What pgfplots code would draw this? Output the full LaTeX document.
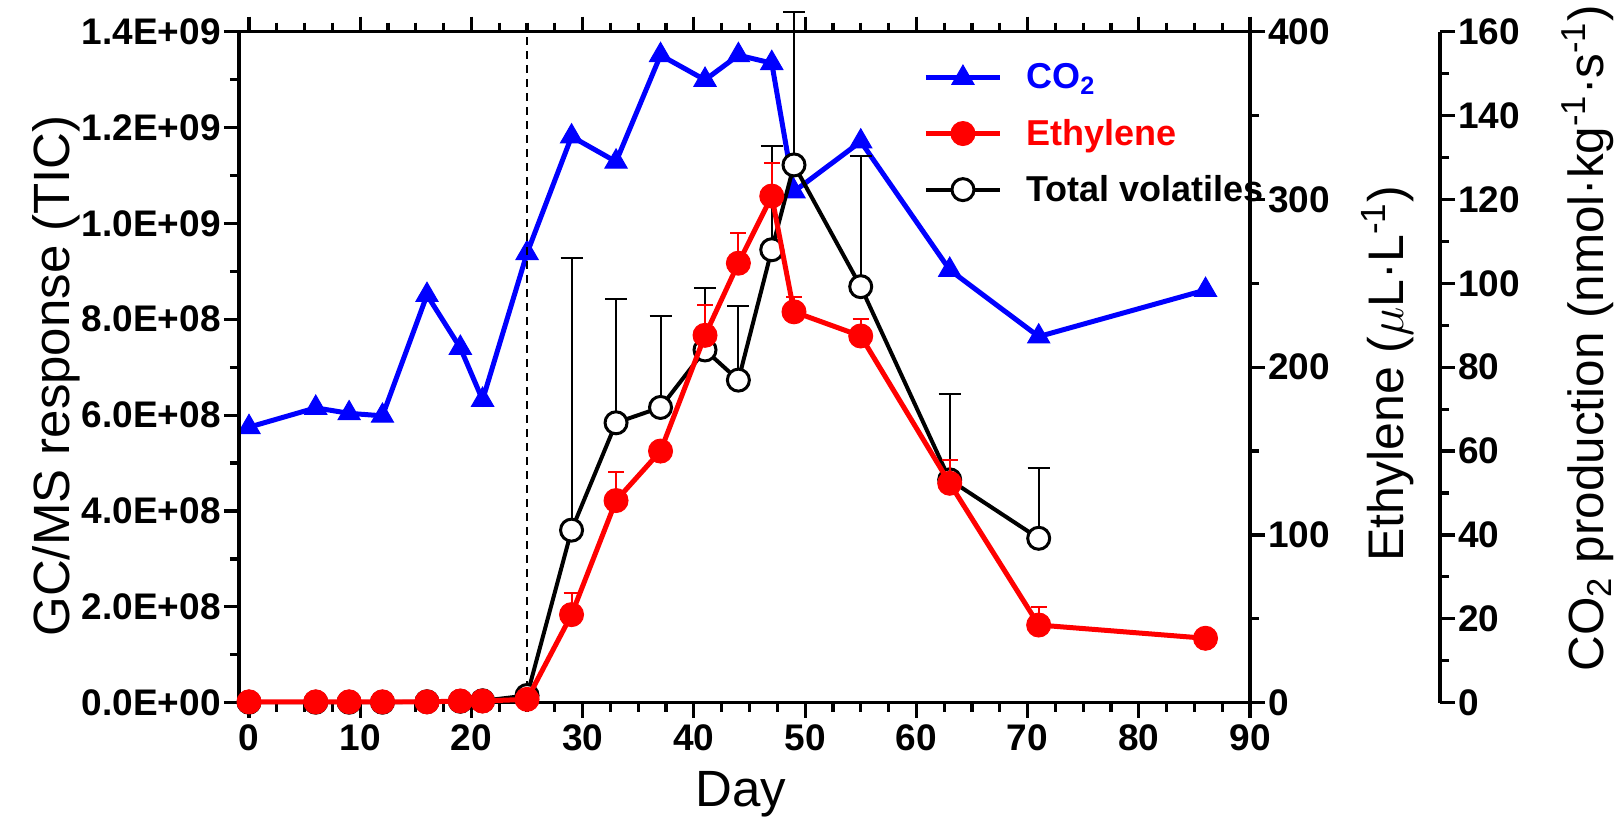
\documentclass[border=0pt]{standalone}
\usepackage{pgfplots}
\pgfplotsset{compat=1.18}
\usepackage{fontspec}
\setmainfont{Liberation Sans}

\pgfplotstableread{
day co2
0 65.7
6 70.3
9 69.0
12 68.4
16 97.2
19 84.6
21 72.2
25 107.2
29 135.0
33 129.0
37 154.4
41 148.5
44 154.4
47 152.5
49 121.9
55 133.8
63 103.2
71 87.3
86 98.4
}\cotwo

\pgfplotstableread{
day eth err
0 0.5 0
6 0.5 0
9 0.5 0
12 0.5 0
16 0.5 0
19 1 0
21 1 0
25 2 0
29 52.5 13
33 120.5 17
37 150 3
41 219 18
44 262 18
47 302 20
49 233 9
55 218.6 10
63 130.8 14
71 46.3 11
86 38.4 0
}\ethylene

\pgfplotstableread{
day tv err
0 1e6 0
6 1e6 0
9 1e6 0
12 1e6 0
16 2e6 0
19 3e6 0
21 4e6 0
25 1.5e7 0
29 3.60e8 5.67e8
33 5.84e8 2.58e8
37 6.16e8 1.91e8
41 7.36e8 1.29e8
44 6.73e8 1.55e8
47 9.45e8 2.17e8
49 1.122e9 3.20e8
55 8.68e8 2.73e8
63 4.65e8 1.79e8
71 3.43e8 1.46e8
}\volatiles

\begin{document}
\begin{tikzpicture}
\pgfplotsset{
  every axis/.append style={
    scale only axis,
    width=505.5pt, height=335.5pt,
    clip=false,
    axis line style={line width=1.6pt},
    every tick/.style={line width=1.6pt, black},
    major tick length=7.5pt, minor tick length=4.5pt,
    tick align=outside,
    tick label style={font=\fontsize{18.5}{21}\selectfont\bfseries, inner sep=1.5pt},
    /pgf/number format/assume math mode=true,
    label style={font=\fontsize{25.5}{30}\selectfont},
  },
}

% CO2 axis (third axis)
\begin{axis}[
  width=600.5pt,
  xmin=-0.9, xmax=107.08,
  ymin=0, ymax=160,
  hide x axis,
  axis y line*=right,
  ytick={0,20,...,160},
  minor y tick num=1,
  ylabel={CO\textsubscript{2} production (nmol·kg\textsuperscript{-1}·s\textsuperscript{-1})},
  ylabel style={at={(axis description cs:1.123,0.543)}, anchor=center, font=\fontsize{24.7}{29}\selectfont},
]
\addplot[blue, line width=2.5pt, mark=triangle*, mark size=6.4pt, mark options={line width=0.5pt}] table[x=day,y=co2] {\cotwo};
\end{axis}

% Main axis (total volatiles)
\begin{axis}[
  name=main,
  xmin=-0.9, xmax=90,
  ymin=0, ymax=1.4e9,
  xtick={0,10,...,90},
  minor x tick num=3,
  ytick={0,2e8,4e8,6e8,8e8,1e9,1.2e9,1.4e9},
  yticklabels={0.0E+00,2.0E+08,4.0E+08,6.0E+08,8.0E+08,1.0E+09,1.2E+09,1.4E+09},
  scaled y ticks=false,
  minor y tick num=1,
  ytick pos=left,
  xticklabel style={yshift=-2pt},
  xlabel={Day},
  ylabel={GC/MS response (TIC)},
  xlabel style={at={(axis description cs:0.4966,-0.136)}, anchor=center},
  ylabel style={at={(ticklabel cs:0.487,-4pt)}},
]
\addplot[black, line width=0.8pt, dash pattern=on 4pt off 3pt, forget plot] coordinates {(25,0) (25,1.4e9)};
\addplot[black, line width=2pt, mark=*, mark size=5.5pt, mark options={fill=white, line width=1.5pt},
  error bars/.cd, y dir=plus, y explicit,
  error bar style={line width=1pt, black},
  error mark options={rotate=90, line width=1pt, mark size=5.5pt, black}]
  table[x=day, y=tv, y error=err] {\volatiles};
\end{axis}

% Ethylene axis
\begin{axis}[
  xmin=-0.9, xmax=90,
  ymin=0, ymax=400,
  hide x axis,
  axis y line*=right,
  ytick={0,100,...,400},
  minor y tick num=1,
  ylabel={Ethylene ($\mu$L·L\textsuperscript{-1})},
  ylabel style={at={(axis description cs:1.1365,0.49)}, anchor=center, font=\fontsize{25}{30}\selectfont},
  legend cell align=left,
  legend style={at={(axis description cs:0.6766,0.8475)}, anchor=west, draw=none, fill=none,
    inner sep=0pt, nodes={inner sep=0pt}, column sep=12pt, row sep=13.5pt,
    font=\fontsize{18}{21}\selectfont\bfseries},
  legend image code/.code={\draw[mark repeat=2, mark phase=2, #1] plot coordinates {(0pt,0pt) (18.5pt,0pt) (37pt,0pt)};},
]
\addlegendimage{blue, line width=2.5pt, mark=triangle*, mark size=6.4pt, mark options={line width=0.5pt}}
\addlegendentry{\textcolor{blue}{CO\textsubscript{2}}}
\addplot[red, line width=2.5pt, mark=*, mark size=6pt, mark options={line width=0.5pt},
  error bars/.cd, y dir=plus, y explicit,
  error bar style={line width=1pt, red},
  error mark options={rotate=90, line width=1pt, mark size=4pt, red}]
  table[x=day, y=eth, y error=err] {\ethylene};
\addlegendentry{\textcolor{red}{Ethylene}}
\addlegendimage{black, line width=2pt, mark=*, mark size=5.5pt, mark options={fill=white, line width=1.5pt}}
\addlegendentry{Total volatiles}
\end{axis}

\pgfresetboundingbox
\useasboundingbox ([shift={(-119.5pt,-57.15pt)}]main.south west) rectangle ([shift={(185.5pt,15.85pt)}]main.north east);
\end{tikzpicture}
\end{document}
